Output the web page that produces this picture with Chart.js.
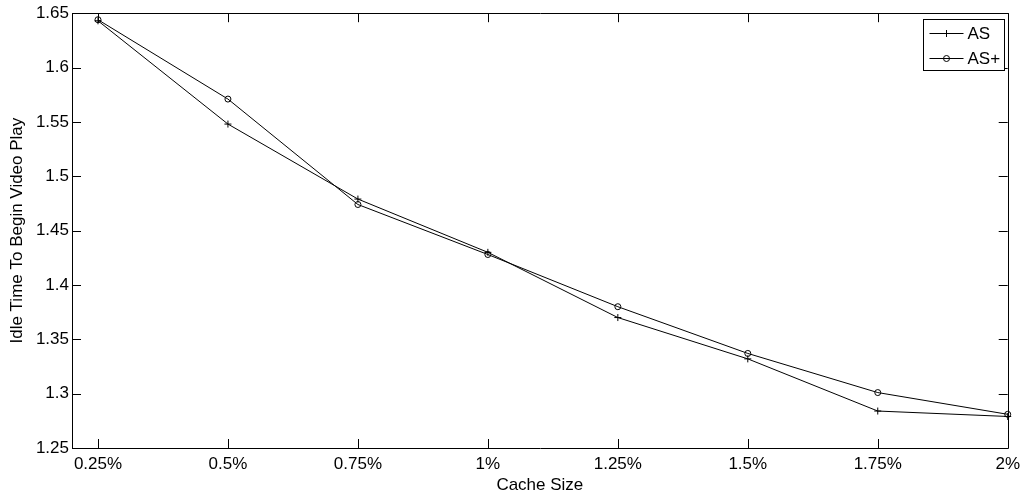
<!DOCTYPE html>
<html>
<head>
<meta charset="utf-8">
<script src="https://cdn.jsdelivr.net/npm/chart.js@4/dist/chart.umd.min.js"></script>
<style>
  html, body { margin: 0; padding: 0; background: #fff; }
  #wrap { width: 1026px; height: 497px; }
</style>
</head>
<body>
<div id="wrap"><canvas id="chart"></canvas></div>
<script>
// cache size (%) and idle time for both schemes
const cacheSizes = [0.25, 0.5, 0.75, 1, 1.25, 1.5, 1.75, 2];
const asValues = [1.643, 1.548, 1.479, 1.430, 1.370, 1.332, 1.284, 1.279];
const asPlusValues = [1.644, 1.571, 1.474, 1.428, 1.380, 1.337, 1.301, 1.281];
const yTicks = [1.25, 1.3, 1.35, 1.4, 1.45, 1.5, 1.55, 1.6, 1.65];
const xTickLabels = ["0.25%", "0.5%", "0.75%", "1%", "1.25%", "1.5%", "1.75%", "2%"];

const FONT = "'Liberation Sans', Arial, Helvetica, sans-serif";
Chart.defaults.font.family = FONT;
Chart.defaults.font.size = 17;
Chart.defaults.color = "#000";

const toPoints = (vals) => cacheSizes.map((x, i) => ({ x: x, y: vals[i] }));

// box around the plot, inward ticks on all four sides, and boxed legend
const matlabAxes = {
  id: "matlabAxes",
  afterDatasetsDraw(chart) {
    const { ctx, chartArea: a, scales } = chart;
    const tl = 9;
    ctx.save();
    ctx.strokeStyle = "#000";
    ctx.lineWidth = 1;
    ctx.beginPath();
    ctx.rect(Math.round(a.left) + 0.5, Math.round(a.top) + 0.5,
             Math.round(a.right - a.left), Math.round(a.bottom - a.top));
    ctx.stroke();
    ctx.beginPath();
    cacheSizes.forEach((v) => {
      const x = Math.round(scales.x.getPixelForValue(v)) + 0.5;
      ctx.moveTo(x, a.bottom); ctx.lineTo(x, a.bottom - tl);
      ctx.moveTo(x, a.top); ctx.lineTo(x, a.top + tl);
    });
    yTicks.forEach((v) => {
      const y = Math.round(scales.y.getPixelForValue(v)) + 0.5;
      ctx.moveTo(a.left, y); ctx.lineTo(a.left + tl, y);
      ctx.moveTo(a.right, y); ctx.lineTo(a.right - tl, y);
    });
    ctx.stroke();

    // legend
    const bx = 923.5, by = 19.5, bw = 81, bh = 51;
    ctx.fillStyle = "#fff";
    ctx.fillRect(bx, by, bw, bh);
    ctx.strokeRect(bx, by, bw, bh);
    ctx.font = "17px " + FONT;
    ctx.textBaseline = "middle";
    chart.data.datasets.forEach((ds, i) => {
      const y = by + 14 + i * 25;
      ctx.strokeStyle = ds.borderColor;
      ctx.beginPath();
      ctx.moveTo(bx + 6, y); ctx.lineTo(bx + 40, y);
      ctx.stroke();
      ctx.fillStyle = "rgba(0,0,0,0)";
      Chart.helpers.drawPoint(ctx, {
        pointStyle: ds.pointStyle, radius: ds.pointRadius, borderWidth: 1
      }, bx + 23, y);
      ctx.fillStyle = "#000";
      ctx.fillText(ds.label, bx + 44, y + 1);
    });
    ctx.restore();
  }
};

new Chart(document.getElementById("chart"), {
  type: "line",
  data: {
    datasets: [
      {
        label: "AS",
        data: toPoints(asValues),
        borderColor: "#000",
        backgroundColor: "rgba(0,0,0,0)",
        borderWidth: 1,
        pointStyle: "cross",
        pointRadius: 3.5,
        pointBorderWidth: 1,
        pointBorderColor: "#000",
        tension: 0,
        clip: false
      },
      {
        label: "AS+",
        data: toPoints(asPlusValues),
        borderColor: "#000",
        backgroundColor: "rgba(0,0,0,0)",
        borderWidth: 1,
        pointStyle: "circle",
        pointRadius: 3,
        pointBorderWidth: 1,
        pointBorderColor: "#000",
        pointBackgroundColor: "rgba(0,0,0,0)",
        tension: 0,
        clip: false
      }
    ]
  },
  options: {
    responsive: true,
    maintainAspectRatio: false,
    animation: false,
    layout: { padding: { top: 13, right: 18, left: 0, bottom: 0 } },
    plugins: {
      legend: { display: false },
      tooltip: { enabled: false }
    },
    scales: {
      x: {
        type: "linear",
        min: 0.2,
        max: 2,
        afterBuildTicks: (s) => { s.ticks = cacheSizes.map((v) => ({ value: v })); },
        afterFit: (s) => { s.height = 49; },
        ticks: {
          padding: 6,
          maxRotation: 0,
          autoSkip: false,
          callback: (v) => xTickLabels[cacheSizes.indexOf(v)]
        },
        grid: { display: false, drawTicks: false },
        border: { display: false },
        title: { display: true, text: "Cache Size", padding: { top: 0, bottom: 1 } }
      },
      y: {
        min: 1.25,
        max: 1.65,
        afterBuildTicks: (s) => { s.ticks = yTicks.map((v) => ({ value: v })); },
        afterFit: (s) => { s.width = 72; },
        ticks: {
          padding: 3,
          callback: (v) => String(v)
        },
        grid: { display: false, drawTicks: false },
        border: { display: false },
        title: { display: true, text: "Idle Time To Begin Video Play", padding: { top: 7, bottom: 0 } }
      }
    }
  },
  plugins: [matlabAxes]
});
</script>
</body>
</html>
